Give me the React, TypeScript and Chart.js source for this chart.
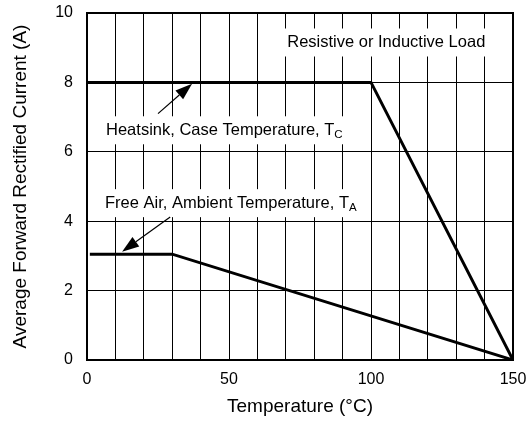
import React, { useEffect, useRef } from 'react';
import { Chart, registerables } from 'chart.js';

Chart.register(...registerables);

// ---- data ----
const heatsinkTemps = [0, 100, 150];
const heatsinkCurrent = [8, 8, 0];
const freeAirTemps = [1, 30, 150];
const freeAirCurrent = [3.05, 3.05, 0];
const xTickLabels = [0, 50, 100, 150];
const yTickLabels = [0, 2, 4, 6, 8, 10];

const xTitle = 'Temperature (°C)';
const yTitle = 'Average Forward Rectified Current (A)';

const labelTexts = ['Resistive or Inductive Load', 'Heatsink, Case Temperature, T', 'Free Air, Ambient Temperature, T'];
const labelSubs = ['', 'C', 'A'];
const labelX = [70.5, 6.7, 6.35];
const labelY = [9.15, 6.62, 4.52];

const arrowFromX = [25, 29.3];
const arrowFromY = [7.1, 4.12];
const arrowToX = [37, 12.35];
const arrowToY = [7.96, 3.12];

const FONT = '"Liberation Sans", Arial, Helvetica, sans-serif';

const annotationPlugin = {
  id: 'annotations',
  afterDatasetsDraw(chart: any) {
    const ctx = chart.ctx as CanvasRenderingContext2D;
    const xs = chart.scales.x;
    const ys = chart.scales.y;
    const area = chart.chartArea;
    ctx.save();
    // labels with white boxes
    for (let i = 0; i < labelTexts.length; i++) {
      const px = xs.getPixelForValue(labelX[i]);
      const py = ys.getPixelForValue(labelY[i]);
      ctx.font = `16.5px ${FONT}`;
      const w = ctx.measureText(labelTexts[i]).width;
      let sw = 0;
      if (labelSubs[i]) {
        ctx.font = `11.5px ${FONT}`;
        sw = ctx.measureText(labelSubs[i]).width;
      }
      ctx.fillStyle = '#fff';
      ctx.fillRect(px - 3, py - 14, w + sw + 6, 28);
      ctx.fillStyle = '#000';
      ctx.textBaseline = 'middle';
      ctx.textAlign = 'left';
      ctx.font = `16.5px ${FONT}`;
      ctx.fillText(labelTexts[i], px, py);
      if (labelSubs[i]) {
        ctx.font = `11.5px ${FONT}`;
        ctx.fillText(labelSubs[i], px + w, py + 5);
      }
    }
    // arrows
    for (let i = 0; i < arrowFromX.length; i++) {
      const x1 = xs.getPixelForValue(arrowFromX[i]);
      const y1 = ys.getPixelForValue(arrowFromY[i]);
      const x2 = xs.getPixelForValue(arrowToX[i]);
      const y2 = ys.getPixelForValue(arrowToY[i]);
      const ang = Math.atan2(y2 - y1, x2 - x1);
      const headLen = 17;
      const headW = 5.8;
      const bx = x2 - headLen * Math.cos(ang);
      const by = y2 - headLen * Math.sin(ang);
      ctx.strokeStyle = '#000';
      ctx.lineWidth = 1.2;
      ctx.beginPath();
      ctx.moveTo(x1, y1);
      ctx.lineTo(bx, by);
      ctx.stroke();
      ctx.fillStyle = '#000';
      ctx.beginPath();
      ctx.moveTo(x2, y2);
      ctx.lineTo(bx + headW * Math.sin(ang), by - headW * Math.cos(ang));
      ctx.lineTo(bx - headW * Math.sin(ang), by + headW * Math.cos(ang));
      ctx.closePath();
      ctx.fill();
    }
    // frame
    ctx.strokeStyle = '#000';
    ctx.lineWidth = 2;
    ctx.strokeRect(area.left, area.top, area.right - area.left, area.bottom - area.top);
    ctx.restore();
  },
};

export default function App() {
  const ref = useRef<HTMLCanvasElement | null>(null);
  useEffect(() => {
    if (!ref.current) return;
    Chart.defaults.font.family = FONT;
    const chart = new Chart(ref.current, {
      type: 'line',
      data: {
        datasets: [
          {
            label: 'Heatsink',
            data: heatsinkTemps.map((t, i) => ({ x: t, y: heatsinkCurrent[i] })),
            borderColor: '#000',
            borderWidth: 3,
            pointRadius: 0,
            tension: 0,
            fill: false,
          },
          {
            label: 'Free Air',
            data: freeAirTemps.map((t, i) => ({ x: t, y: freeAirCurrent[i] })),
            borderColor: '#000',
            borderWidth: 3,
            pointRadius: 0,
            tension: 0,
            fill: false,
          },
        ],
      },
      options: {
        animation: false,
        responsive: false,
        layout: { padding: { left: 0, right: 16, top: 13, bottom: 0 } },
        plugins: { legend: { display: false }, tooltip: { enabled: false } },
        scales: {
          x: {
            type: 'linear',
            min: 0,
            max: 150,
            ticks: {
              stepSize: 10,
              autoSkip: false,
              maxRotation: 0,
              color: '#000',
              font: { size: 16 },
              padding: 10,
              callback: (v: any) => (xTickLabels.includes(Number(v)) ? String(v) : ''),
            },
            grid: { color: '#000', lineWidth: 1, drawTicks: false },
            border: { display: false },
            title: {
              display: true,
              text: xTitle,
              color: '#000',
              font: { size: 19 },
              padding: { top: 0, bottom: 5 },
            },
            afterFit: (s: any) => {
              s.height = 63;
              s.paddingLeft = 0;
              s.paddingRight = 0;
              s.paddingTop = 0;
              s.paddingBottom = 0;
            },
          },
          y: {
            type: 'linear',
            min: 0,
            max: 10,
            ticks: {
              stepSize: 2,
              color: '#000',
              font: { size: 16 },
              padding: 14,
              callback: (v: any) => (yTickLabels.includes(Number(v)) ? String(v) : ''),
            },
            grid: { color: '#000', lineWidth: 1, drawTicks: false },
            border: { display: false },
            title: {
              display: true,
              text: yTitle,
              color: '#000',
              font: { size: 19 },
              padding: { top: 9, bottom: 0 },
            },
            afterFit: (s: any) => {
              s.width = 87;
              s.paddingLeft = 0;
              s.paddingRight = 0;
              s.paddingTop = 0;
              s.paddingBottom = 0;
            },
          },
        },
      },
      plugins: [annotationPlugin],
    });
    return () => chart.destroy();
  }, []);
  return (
    <div style={{ position: 'absolute', left: 0, top: 0, width: 529, height: 423, background: '#fff' }}>
      <canvas ref={ref} width={529} height={423} />
    </div>
  );
}
